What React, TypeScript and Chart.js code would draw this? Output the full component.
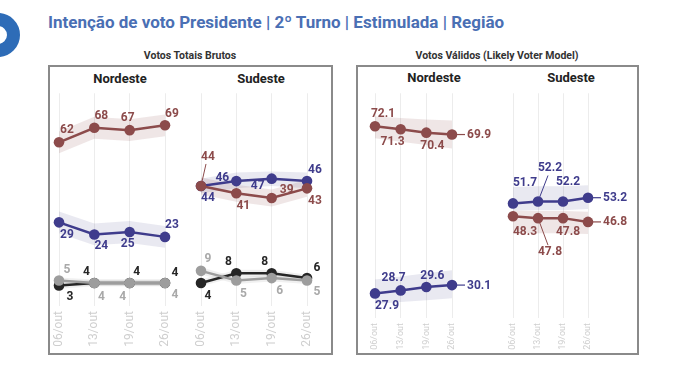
import React, { useEffect, useRef } from "react";
import { Chart, registerables } from "chart.js";
Chart.register(...registerables);

const dates = ["06/out", "13/out", "19/out", "26/out"];

// ---- Votos Totais Brutos : Nordeste
const totNeRed = [62, 68, 67, 69];
const totNeBlue = [29, 24, 25, 23];
const totNeGray = [5, 4, 4, 4];
const totNeBlack = [3, 4, 4, 4];
const totNeRedLo = [57.5, 63.5, 62.5, 64.5];
const totNeRedHi = [66.5, 72.5, 71.5, 73.5];
const totNeBlueLo = [24.5, 19.5, 20.5, 18.5];
const totNeBlueHi = [33.5, 28.5, 29.5, 27.5];
const totNeGrayLo = [3.2, 2.6, 2.6, 2.6];
const totNeGrayHi = [6.2, 5.4, 5.4, 5.4];
const totNeBlackLo = [1.6, 2.6, 2.6, 2.6];
const totNeBlackHi = [4.4, 5.4, 5.4, 5.4];

// ---- Votos Totais Brutos : Sudeste
const totSeBlue = [44, 46, 47, 46];
const totSeRed = [44, 41, 39, 43];
const totSeGray = [9, 5, 6, 5];
const totSeBlack = [4, 8, 8, 6];
const totSeBlueLo = [41, 43, 44, 43];
const totSeBlueHi = [47, 49.5, 50, 49.5];
const totSeRedLo = [40.5, 37.5, 35.5, 39.5];
const totSeRedHi = [47.5, 44.5, 42.5, 46.5];
const totSeGrayLo = [7.5, 3.6, 4.6, 3.6];
const totSeGrayHi = [10.5, 6.4, 7.4, 6.4];
const totSeBlackLo = [2.6, 6.6, 6.6, 4.6];
const totSeBlackHi = [5.4, 9.4, 9.4, 7.4];

// ---- Votos Válidos : Nordeste
const valNeRed = [72.1, 71.3, 70.4, 69.9];
const valNeBlue = [27.9, 28.7, 29.6, 30.1];
const valNeRedLo = [68.9, 68.0, 67.1, 66.2];
const valNeRedHi = [74.7, 74.3, 73.9, 73.6];
const valNeBlueLo = [25.1, 25.6, 26.1, 26.6];
const valNeBlueHi = [31.6, 32.4, 33.2, 34.0];

// ---- Votos Válidos : Sudeste
const valSeBlue = [51.7, 52.2, 52.2, 53.2];
const valSeRed = [48.3, 47.8, 47.8, 46.8];
const valSeBlueLo = [49.8, 49.9, 49.9, 50.2];
const valSeBlueHi = [56.0, 56.2, 56.2, 56.5];
const valSeRedLo = [44.0, 43.8, 43.8, 43.6];
const valSeRedHi = [49.8, 49.7, 49.7, 49.5];

// label placements (dx, dy, kind: 0 plain, 1 leader, 2 end dash)
const pTotNeRed = [[8, -12], [7, -12], [-2, -12], [7, -11]];
const pTotNeBlue = [[8, 13], [7, 12], [-2, 12], [7, -12]];
const pTotNeGray = [[8, -11], [7, 14], [-7, 14], [10, 12]];
const pTotNeBlack = [[11, 12], [-8, -11], [7, -11], [10, -10]];
const pTotSeBlue = [[7, 12], [-14, -3], [-14, 7], [8, -11]];
const pTotSeRed = [[7, -29, 1], [7, 13], [15, -8], [8, 13]];
const pTotSeGray = [[7, -12], [7, 13], [8, 13], [10, 11]];
const pTotSeBlack = [[7, 13], [-8, -11], [-7, -11], [10, -10]];
const pValNeRed = [[8, -12], [-8, 13], [6, 13], [0, 0, 2]];
const pValNeBlue = [[12, 13], [-7, -12], [6, -11], [0, 0, 2]];
const pValSeBlue = [[12, -20], [12, -33, 1], [5, -19], [0, 0, 2]];
const pValSeRed = [[12, 16], [12, 34, 1], [5, 14], [0, 0, 2]];

const RED = "#8c4b4b";
const BLUE = "#3f3c8c";
const BLACK = "#262626";
const GRAY = "#9d9d9d";
const GRAY_TXT = "#a9a9a9";
const BAND_RED = "rgba(140,75,75,0.14)";
const BAND_BLUE = "rgba(70,70,140,0.12)";
const BAND_GRAY = "rgba(0,0,0,0.06)";

interface Series {
  data: number[];
  lo: number[];
  hi: number[];
  color: string;
  text: string;
  band: string;
  pos: number[][];
}

interface SubProps {
  series: Series[];
  yMin: number;
  yMax: number;
  left: number;
  top: number;
  width: number;
  height: number;
  padL: number;
  padR: number;
  padT: number;
  axisH: number;
  tickSize: number;
}

function SubChart(p: SubProps) {
  const ref = useRef<HTMLCanvasElement>(null);
  useEffect(() => {
    const datasets: any[] = [];
    p.series.forEach((s) => {
      datasets.push({ data: s.lo, borderWidth: 0, pointRadius: 0, fill: false, order: 10, clip: false });
      datasets.push({ data: s.hi, borderWidth: 0, pointRadius: 0, fill: "-1", backgroundColor: s.band, order: 10, clip: false });
    });
    const start = datasets.length;
    p.series.forEach((s, i) => {
      datasets.push({
        data: s.data,
        borderColor: s.color,
        backgroundColor: s.color,
        pointBackgroundColor: s.color,
        pointBorderWidth: 0,
        pointRadius: 5.3,
        borderWidth: 2.5,
        fill: false,
        tension: 0,
        order: i,
        clip: false,
      });
    });
    const labelPlugin = {
      id: "valLabels",
      afterDatasetsDraw(chart: any) {
        const ctx = chart.ctx;
        ctx.save();
        ctx.font = "bold 12px Roboto";
        p.series.forEach((s, si) => {
          const meta = chart.getDatasetMeta(start + si);
          s.data.forEach((v, i) => {
            const pt = meta.data[i];
            const pos = s.pos[i];
            const kind = pos[2] || 0;
            const txt = String(v);
            ctx.fillStyle = s.text;
            ctx.strokeStyle = s.text;
            if (kind === 2) {
              ctx.lineWidth = 1.2;
              ctx.beginPath();
              ctx.moveTo(pt.x + 5, pt.y);
              ctx.lineTo(pt.x + 13, pt.y);
              ctx.stroke();
              ctx.textAlign = "left";
              ctx.textBaseline = "middle";
              ctx.fillText(txt, pt.x + 15, pt.y + 0.5);
              return;
            }
            const lx = pt.x + pos[0];
            const ly = pt.y + pos[1];
            if (kind === 1) {
              ctx.lineWidth = 1;
              ctx.beginPath();
              ctx.moveTo(pt.x, pt.y);
              ctx.lineTo(lx - 2, ly + (pos[1] < 0 ? 7 : -7));
              ctx.stroke();
            }
            ctx.textAlign = "center";
            ctx.textBaseline = "middle";
            ctx.fillText(txt, lx, ly);
          });
        });
        ctx.restore();
      },
    };
    const chart = new Chart(ref.current as HTMLCanvasElement, {
      type: "line",
      data: { labels: dates, datasets },
      options: {
        responsive: false,
        animation: false,
        devicePixelRatio: 1,
        events: [],
        layout: { padding: { left: p.padL, right: p.padR, top: p.padT, bottom: 0 } },
        plugins: { legend: { display: false }, tooltip: { enabled: false }, title: { display: false } },
        scales: {
          x: {
            grid: { color: "#ececec", lineWidth: 1, drawTicks: false },
            border: { display: false },
            ticks: {
              color: "#cfcfcf",
              font: { family: "Roboto", size: p.tickSize },
              minRotation: 90,
              maxRotation: 90,
              autoSkip: false,
              padding: 5,
            },
            afterFit: (sc: any) => {
              sc.height = p.axisH;
            },
          },
          y: { display: false, min: p.yMin, max: p.yMax },
        },
      } as any,
      plugins: [labelPlugin],
    });
    return () => chart.destroy();
  }, []);
  return (
    <canvas
      ref={ref}
      width={p.width}
      height={p.height}
      style={{ position: "absolute", left: p.left, top: p.top, width: p.width, height: p.height }}
    />
  );
}

const txt = (
  s: string,
  cx: number,
  cy: number,
  size: number,
  color: string,
  weight = 700
) => (
  <div
    style={{
      position: "absolute",
      left: cx - 200,
      width: 400,
      top: cy - size,
      height: size * 2,
      lineHeight: `${size * 2}px`,
      textAlign: "center",
      fontFamily: "Roboto",
      fontWeight: weight,
      fontSize: size,
      color,
      whiteSpace: "nowrap",
    }}
  >
    {s}
  </div>
);

export default function App() {
  const totNe: Series[] = [
    { data: totNeRed, lo: totNeRedLo, hi: totNeRedHi, color: RED, text: RED, band: BAND_RED, pos: pTotNeRed },
    { data: totNeBlue, lo: totNeBlueLo, hi: totNeBlueHi, color: BLUE, text: BLUE, band: BAND_BLUE, pos: pTotNeBlue },
    { data: totNeGray, lo: totNeGrayLo, hi: totNeGrayHi, color: GRAY, text: GRAY_TXT, band: BAND_GRAY, pos: pTotNeGray },
    { data: totNeBlack, lo: totNeBlackLo, hi: totNeBlackHi, color: BLACK, text: BLACK, band: BAND_GRAY, pos: pTotNeBlack },
  ];
  const totSe: Series[] = [
    { data: totSeRed, lo: totSeRedLo, hi: totSeRedHi, color: RED, text: RED, band: BAND_RED, pos: pTotSeRed },
    { data: totSeBlue, lo: totSeBlueLo, hi: totSeBlueHi, color: BLUE, text: BLUE, band: BAND_BLUE, pos: pTotSeBlue },
    { data: totSeGray, lo: totSeGrayLo, hi: totSeGrayHi, color: GRAY, text: GRAY_TXT, band: BAND_GRAY, pos: pTotSeGray },
    { data: totSeBlack, lo: totSeBlackLo, hi: totSeBlackHi, color: BLACK, text: BLACK, band: BAND_GRAY, pos: pTotSeBlack },
  ];
  const valNe: Series[] = [
    { data: valNeRed, lo: valNeRedLo, hi: valNeRedHi, color: RED, text: RED, band: BAND_RED, pos: pValNeRed },
    { data: valNeBlue, lo: valNeBlueLo, hi: valNeBlueHi, color: BLUE, text: BLUE, band: BAND_BLUE, pos: pValNeBlue },
  ];
  const valSe: Series[] = [
    { data: valSeBlue, lo: valSeBlueLo, hi: valSeBlueHi, color: BLUE, text: BLUE, band: BAND_BLUE, pos: pValSeBlue },
    { data: valSeRed, lo: valSeRedLo, hi: valSeRedHi, color: RED, text: RED, band: BAND_RED, pos: pValSeRed },
  ];
  return (
    <div style={{ position: "absolute", left: 0, top: 0, width: 680, height: 380, background: "#fff", overflow: "hidden" }}>
      <div
        style={{
          position: "absolute",
          left: -24,
          top: 13,
          width: 44,
          height: 44,
          boxSizing: "border-box",
          border: "13px solid #2e6cb7",
          borderRadius: "50%",
        }}
      />
      <div
        style={{
          position: "absolute",
          left: 48,
          top: 10,
          height: 24,
          lineHeight: "24px",
          fontFamily: "Roboto",
          fontWeight: 700,
          fontSize: 17,
          color: "#4a6fb4",
          whiteSpace: "nowrap",
        }}
      >
        Intenção de voto Presidente | 2º Turno | Estimulada | Região
      </div>
      {txt("Votos Totais Brutos", 190, 55, 10.5, "#333")}
      {txt("Votos Válidos (Likely Voter Model)", 497, 55, 10.5, "#333")}
      <div style={{ position: "absolute", left: 48, top: 65, width: 285, height: 290, boxSizing: "border-box", border: "2px solid #8a8a8a" }} />
      <div style={{ position: "absolute", left: 356, top: 65, width: 283, height: 290, boxSizing: "border-box", border: "2px solid #8a8a8a" }} />
      {txt("Nordeste", 120, 79, 13, "#222")}
      {txt("Sudeste", 261, 79, 13, "#222")}
      {txt("Nordeste", 434, 78, 13, "#222")}
      {txt("Sudeste", 571, 78, 13, "#222")}
      <SubChart series={totNe} yMin={-5.5} yMax={82.2} left={50} top={88} width={140} height={266} padL={9} padR={25} padT={4} axisH={48} tickSize={12} />
      <SubChart series={totSe} yMin={-5.5} yMax={82.2} left={190} top={88} width={140} height={266} padL={11} padR={23} padT={4} axisH={48} tickSize={12} />
      <SubChart series={valNe} yMin={21.4} yMax={80.8} left={360} top={88} width={140} height={266} padL={15} padR={48} padT={4} axisH={36} tickSize={9} />
      <SubChart series={valSe} yMin={21.4} yMax={80.8} left={500} top={88} width={136} height={266} padL={13} padR={48} padT={4} axisH={36} tickSize={9} />
    </div>
  );
}
